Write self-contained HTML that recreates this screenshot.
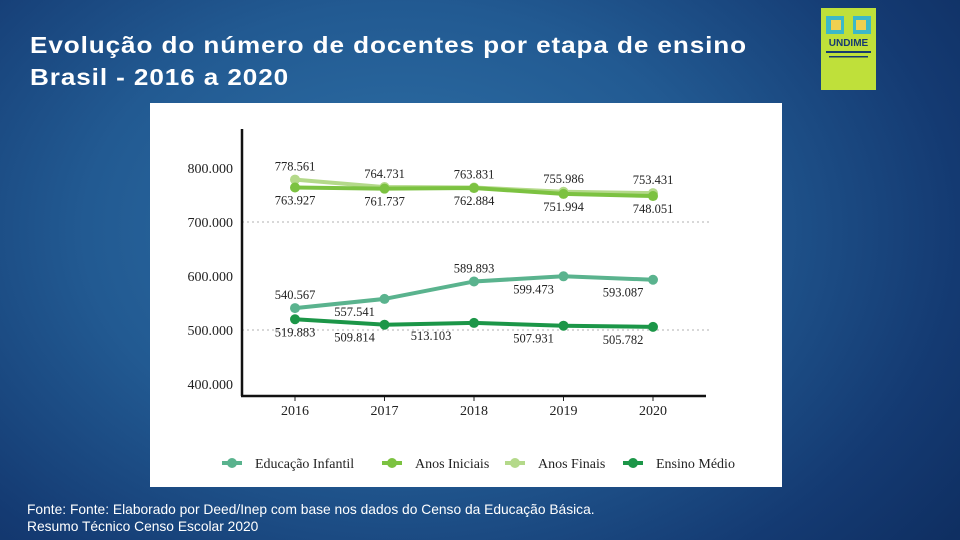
<!DOCTYPE html>
<html><head><meta charset="utf-8"><style>
body{margin:0;width:960px;height:540px;overflow:hidden;font-family:"Liberation Sans",sans-serif;
background:radial-gradient(ellipse 700px 500px at 400px 230px,#2f72a8 0%,#225a92 45%,#143a72 80%,#0f2f62 100%);position:relative}
.t{position:absolute;left:30px;color:#fff;font-size:23px;font-weight:bold;letter-spacing:0.8px;transform:scaleX(1.135);transform-origin:0 0;white-space:nowrap}
.f{position:absolute;left:27px;color:#fff;font-size:13.8px}
#panel{position:absolute;left:150px;top:103px;width:632px;height:384px;background:#fff}
#logo{position:absolute;left:821px;top:8px;width:55px;height:82px;background:#bfe03a}
</style></head><body>
<div class="t" style="top:32px">Evolução do número de docentes por etapa de ensino</div>
<div class="t" style="top:64px">Brasil - 2016 a 2020</div>
<div id="logo">
<svg width="55" height="82"><rect x="5" y="8" width="18" height="18" fill="#3cb8c8"/><rect x="32" y="8" width="18" height="18" fill="#3cb8c8"/><rect x="10" y="12" width="10" height="10" fill="#f0d050"/><rect x="35" y="12" width="10" height="10" fill="#f0d050"/>
<text x="27.5" y="38" text-anchor="middle" font-size="10" font-weight="bold" fill="#163a70" font-family="Liberation Sans">UNDIME</text>
<rect x="5" y="43" width="45" height="2" fill="#163a70"/><rect x="8" y="48" width="39" height="1.5" fill="#163a70"/></svg></div>
<div id="panel">
<svg id="chart" width="632" height="384" font-family="Liberation Serif" font-size="12.5"></svg></div>
<div class="f" style="top:502px">Fonte: Fonte: Elaborado por Deed/Inep com base nos dados do Censo da Educação Básica.</div>
<div class="f" style="top:519px">Resumo Técnico Censo Escolar 2020</div>
<script>
const years=["2016","2017","2018","2019","2020"];
const yTicks=[400000,500000,600000,700000,800000];
const infantil=[540567,557541,589893,599473,593087];
const iniciais=[763927,761737,762884,751994,748051];
const finais=[778561,764731,763831,755986,753431];
const medio=[519883,509814,513103,507931,505782];
const svg=document.getElementById('chart');const NS='http://www.w3.org/2000/svg';
const X=i=>145+i*89.5, Y=v=>281-(v-400000)*0.00054;
function el(t,a,p){const e=document.createElementNS(NS,t);for(const k in a)e.setAttribute(k,a[k]);(p||svg).appendChild(e);return e;}
const fmt=v=>String(v).replace(/\B(?=(\d{3})+(?!\d))/g,'.');
[500000,700000].forEach(v=>{const g=el('line',{x1:92,x2:560,y1:Y(v),y2:Y(v),stroke:'#999','stroke-dasharray':'2,3','stroke-width':0.8});});
yTicks.forEach(v=>{const t=el('text',{x:83,y:Y(v)+5,'text-anchor':'end','font-size':14,fill:'#222'});t.textContent=fmt(v);});
years.forEach((y,i)=>{el('line',{x1:X(i),x2:X(i),y1:293,y2:298,stroke:'#222'});const t=el('text',{x:X(i),y:312,'text-anchor':'middle','font-size':14,fill:'#222'});t.textContent=y;});
el('line',{x1:92,x2:92,y1:26,y2:293,stroke:'#111','stroke-width':2.5});
el('line',{x1:91,x2:556,y1:293,y2:293,stroke:'#111','stroke-width':2.5});
const series=[
 {d:finais,c:'#b4d98a',n:'anos-finais',lab:-1},
 {d:iniciais,c:'#7cc241',n:'anos-iniciais',lab:1},
 {d:infantil,c:'#5ab38e',n:'educacao-infantil',lab:[-1,1,-1,1,1]},
 {d:medio,c:'#1c9648',n:'ensino-medio',lab:1}];
series.forEach(s=>{
 const p=el('polyline',{points:s.d.map((v,i)=>X(i)+','+Y(v)).join(' '),fill:'none',stroke:s.c,'stroke-width':4});
 
 s.d.forEach((v,i)=>{const c=el('circle',{cx:X(i),cy:Y(v),r:5,fill:s.c});
  const dir=Array.isArray(s.lab)?s.lab[i]:s.lab;let dx=0;
  if(s.n==='educacao-infantil'&&i>0&&i!==2)dx=-30;if(s.n==='ensino-medio'&&i>0)dx=-30;if(i===2&&s.n==='ensino-medio')dx=-43;
  const t=el('text',{x:X(i)+dx,y:Y(v)+(dir<0?-9:17),'text-anchor':'middle',fill:'#222'});t.textContent=fmt(v);
  });
});
const leg=[['Educação Infantil','#5ab38e',72],['Anos Iniciais','#7cc241',232],['Anos Finais','#b4d98a',355],['Ensino Médio','#1c9648',473]];
leg.forEach(l=>{const g=el('g',{});
 el('line',{x1:l[2],x2:l[2]+20,y1:360,y2:360,stroke:l[1],'stroke-width':4},g);el('circle',{cx:l[2]+10,cy:360,r:5,fill:l[1]},g);
 const t=el('text',{x:l[2]+33,y:365,'font-size':14,fill:'#222'},g);t.textContent=l[0];});
</script></body></html>
